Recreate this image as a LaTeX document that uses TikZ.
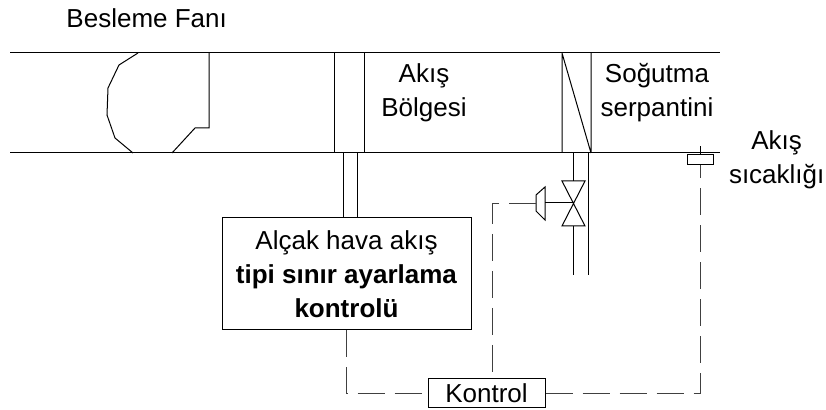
\documentclass[tikz,border=0pt]{standalone}
\usepackage{fontspec}
\setmainfont{Liberation Sans}
\usetikzlibrary{positioning}
\usetikzlibrary{calc}

\begin{document}
\begin{tikzpicture}[x=0.5pt,y=-0.5pt,line width=0.5pt,
		every node/.style={font=\fontsize{13}{17}\selectfont},
		lbl/.style={align=center,inner sep=0pt},
		cbox/.style={rectangle,draw=black,line width=0.5pt,align=center,inner sep=0pt},
		sig/.style={draw=black!75,dash pattern=on 13.5pt off 5pt}]
		\useasboundingbox (0,0) rectangle (826,410);
		% duct
		\draw (10,53) -- (720,53);
		\draw (10,153) -- (720,153);
		% fan
		\draw (138,53) -- (119,65) -- (108,88) -- (107,115) -- (115,138) -- (133,153);
		\draw (172,153) -- (195,128) -- (209,128) -- (209,53);
		% damper and coil
		\draw (334,53) -- (334,153) (364,53) -- (364,153);
		\draw (562,53) -- (562,153) (591,53) -- (591,153) (562,53) -- (591,153);
		\node[anchor=base west,inner sep=0pt] (fan) at (66,28) {Besleme Fanı};
		\node[lbl] (zone) at (424,93) {Akış\\Bölgesi};
		\node[lbl] (coil) at (657,93) {Soğutma\\serpantini};
		\node[cbox,minimum width=124.5pt,minimum height=56pt] (limit) at (346.5,274) {Alçak hava akış\\\textbf{tipi sınır ayarlama}\\\textbf{kontrolü}};
		\node[cbox,minimum width=58.5pt,minimum height=14.5pt] (ctrl) at (486.5,393.5) {Kontrol};
		\node[cbox,minimum width=13pt,minimum height=5pt] (sensor) at (700,160) {};
		\node[lbl] (temp) [right = 7.5pt of sensor] {Akış\\sıcaklığı};
		% pipes and valve
		\draw (343,153) -- (343,153 |- limit.north);
		\draw (357,153) -- (357,153 |- limit.north);
		\coordinate (valve) at (573,203);
		\coordinate (act) at (536,204);
		\draw (573,153) -- (573,181) (573,226) -- (573,275) (588,153) -- (588,275);
		\draw (562,181) -- (585,181) -- (562,226) -- (585,226) -- cycle;
		\draw (545,187) -- (536,195) -- (536,211) -- (545,220) -- cycle;
		\draw (545,203) -- (valve);
		\draw (sensor.north) -- ++(0,-8);
		% signal lines
		\draw[sig] (limit.south) |- (ctrl.west);
		\draw[sig] (act) -| ([xshift=2.75pt]ctrl.north);
		\draw[sig] (ctrl.east) -| (sensor.south);
	\end{tikzpicture}
\end{document}
